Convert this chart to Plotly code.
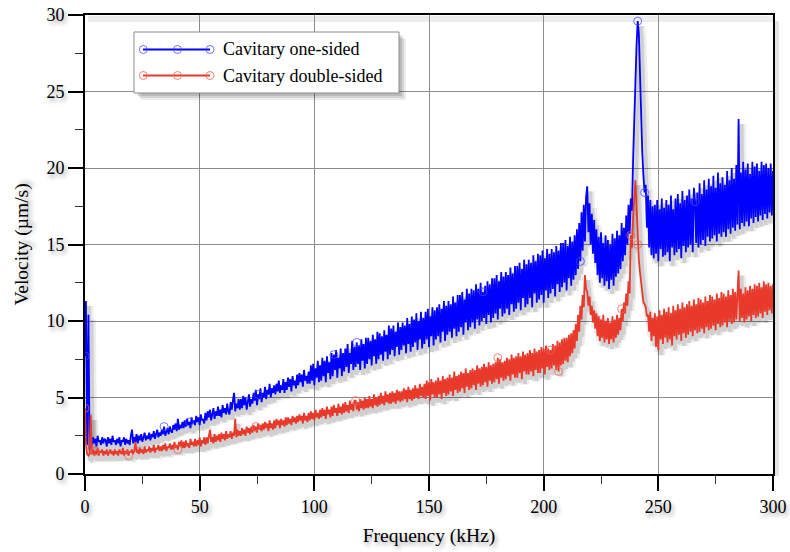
import numpy as np
import plotly.graph_objects as go

# ---------------------------------------------------------------- data
# Frequency axis (kHz): a few points inside the first 2.5 kHz, then 0.5 kHz steps
freq_start = [0, 0.4, 0.9, 1.5, 2.0, 2.5]
freq = freq_start + np.arange(3.0, 300.25, 0.5).tolist()

# Velocity spectrum (µm/s), cavitary one-sided; rows of 5 kHz from 3 kHz on
one_sided = [
    7.7, 11.3, 1.9, 10.4, 1.6, 2.3,
    1.9, 2.4, 2.0, 2.3, 1.8, 2.5, 2.1, 2.2, 1.9, 2.4,
    2.0, 2.3, 2.2, 1.8, 2.4, 2.0, 2.3, 1.9, 2.5, 2.1,
    2.2, 1.9, 2.3, 2.0, 2.4, 1.8, 2.2, 2.1, 2.4, 1.9,
    2.3, 2.0, 2.2, 1.9, 2.5, 2.9, 2.0, 2.4, 2.1, 2.6,
    2.0, 2.5, 2.2, 2.6, 2.1, 2.4, 2.7, 2.2, 2.5, 2.3,
    2.7, 2.2, 2.6, 2.4, 2.8, 2.3, 2.6, 2.9, 2.4, 2.7,
    2.5, 2.9, 2.6, 3.1, 2.5, 2.8, 3.0, 2.6, 3.1, 2.8,
    2.7, 3.2, 2.9, 3.3, 2.8, 3.6, 2.9, 3.2, 3.0, 3.4,
    3.0, 3.5, 3.1, 3.6, 3.2, 3.4, 3.0, 3.7, 3.3, 3.5,
    3.2, 3.8, 3.4, 3.7, 3.2, 3.9, 3.5, 3.6, 3.3, 4.0,
    3.5, 4.1, 3.7, 4.2, 3.5, 3.9, 4.3, 3.6, 4.1, 3.8,
    4.4, 3.8, 4.2, 3.7, 4.5, 4.0, 4.3, 3.9, 4.6, 4.1,
    3.9, 4.7, 4.2, 4.8, 5.3, 4.1, 4.6, 4.3, 4.9, 4.2,
    4.9, 4.3, 5.1, 4.5, 5.0, 4.2, 4.8, 5.2, 4.4, 4.9,
    4.6, 5.3, 4.8, 5.5, 4.5, 5.2, 4.9, 5.6, 4.7, 5.3,
    5.0, 5.7, 4.9, 5.5, 5.2, 5.9, 5.0, 5.6, 5.3, 5.8,
    5.2, 5.9, 5.4, 6.1, 5.3, 5.8, 5.5, 6.2, 5.3, 6.0,
    5.5, 6.3, 5.7, 6.2, 5.4, 6.4, 5.8, 6.1, 5.6, 6.5,
    5.8, 6.6, 6.0, 6.5, 5.7, 6.8, 6.1, 6.4, 5.9, 6.7,
    5.9, 7.1, 6.1, 7.2, 5.8, 6.9, 6.3, 7.4, 6.0, 7.1,
    6.1, 7.6, 6.4, 7.4, 6.0, 7.7, 6.6, 7.3, 6.2, 7.9,
    6.4, 7.8, 6.8, 8.1, 6.3, 7.6, 6.9, 8.2, 6.4, 7.9,
    6.7, 8.2, 7.0, 8.5, 6.6, 7.9, 7.2, 8.7, 6.8, 8.3,
    7.0, 8.6, 7.2, 8.4, 6.8, 8.8, 7.4, 8.5, 6.9, 8.9,
    7.2, 8.9, 7.5, 8.7, 7.1, 9.1, 7.7, 8.8, 7.2, 9.3,
    7.5, 9.2, 7.8, 9.0, 7.4, 9.4, 8.0, 9.1, 7.5, 9.7,
    7.8, 9.5, 8.1, 9.7, 7.7, 9.3, 8.3, 9.9, 7.8, 9.6,
    8.1, 9.9, 8.4, 9.7, 7.9, 10.2, 8.5, 9.8, 8.0, 10.3,
    8.3, 10.1, 8.6, 10.5, 8.1, 10.0, 8.8, 10.6, 8.2, 10.2,
    8.5, 10.6, 8.8, 10.8, 8.3, 10.3, 9.0, 10.9, 8.4, 10.7,
    8.8, 10.9, 9.0, 11.1, 8.6, 10.8, 9.3, 11.3, 8.7, 11.0,
    9.1, 11.3, 9.3, 11.1, 8.9, 11.6, 9.5, 11.2, 9.0, 11.7,
    9.3, 11.7, 9.6, 11.9, 9.1, 11.4, 9.9, 12.1, 9.4, 11.8,
    9.6, 12.1, 9.9, 12.0, 9.5, 12.4, 10.1, 12.1, 9.7, 12.5,
    10.0, 11.9, 10.2, 12.3, 9.8, 12.6, 10.4, 12.4, 9.9, 12.8,
    10.2, 12.8, 10.5, 13.0, 10.1, 12.6, 10.8, 13.2, 10.3, 12.9,
    10.5, 13.2, 10.8, 13.0, 10.4, 13.5, 11.1, 13.1, 10.6, 13.6,
    10.8, 13.6, 11.2, 13.8, 10.7, 13.4, 11.5, 14.0, 10.9, 13.7,
    11.1, 14.0, 11.5, 13.8, 10.9, 14.3, 11.8, 13.9, 11.2, 14.4,
    11.4, 14.3, 11.7, 14.6, 11.2, 14.1, 12.0, 14.7, 11.5, 14.4,
    11.8, 14.7, 12.1, 14.5, 11.6, 14.9, 12.4, 14.6, 11.9, 15.1,
    12.2, 15.1, 12.5, 15.3, 12.0, 14.9, 12.8, 15.5, 12.3, 15.2,
    12.7, 15.6, 13.0, 16.0, 13.4, 16.4, 13.9, 17.1, 14.6, 17.6,
    15.2, 18.1, 18.8, 15.8, 17.7, 15.0, 17.0, 14.4, 16.6, 13.8,
    16.0, 13.0, 15.5, 12.5, 15.8, 12.8, 15.1, 12.3, 15.6, 12.6,
    15.3, 12.1, 15.0, 12.7, 15.7, 12.3, 15.4, 12.9, 15.9, 13.1,
    15.6, 13.4, 16.4, 13.9, 16.1, 14.3, 16.9, 15.0, 17.6, 15.7,
    18.0, 17.2, 20.5, 22.5, 25.5, 28.0, 29.6, 28.8, 26.0, 23.5,
    21.0, 19.5, 18.4, 18.9, 16.1, 18.2, 14.8, 17.9, 14.3, 17.5,
    14.1, 17.6, 14.4, 17.9, 13.9, 17.3, 14.7, 18.0, 14.2, 17.4,
    14.3, 17.9, 14.5, 17.6, 13.9, 18.2, 14.8, 17.3, 14.3, 18.0,
    14.5, 18.3, 14.7, 17.7, 14.1, 18.5, 14.9, 17.9, 14.5, 18.2,
    14.8, 18.6, 15.0, 18.0, 14.5, 18.7, 17.8, 15.1, 18.4, 14.8,
    19.0, 15.0, 18.3, 15.3, 19.2, 14.9, 18.6, 15.5, 19.3, 15.2,
    18.8, 15.4, 19.5, 15.6, 18.7, 15.2, 19.7, 15.7, 19.0, 15.5,
    19.4, 15.8, 18.9, 15.5, 19.8, 16.0, 19.2, 15.7, 20.0, 16.1,
    19.3, 15.9, 20.2, 16.3, 23.2, 16.0, 19.7, 16.4, 20.4, 16.2,
    19.9, 16.5, 20.3, 16.2, 19.6, 16.7, 20.4, 16.4, 20.1, 16.8,
    20.3, 16.5, 19.8, 16.9, 20.4, 16.6, 20.2, 17.0, 20.3, 16.7,
    20.0, 17.1, 20.3, 16.9, 19.8,
]

# Velocity spectrum (µm/s), cavitary double-sided; rows of 5 kHz from 3 kHz on
double_sided = [
    4.3, 2.0, 1.3, 1.2, 1.3, 3.85,
    1.3, 1.6, 1.2, 1.5, 1.3, 1.7, 1.2, 1.5, 1.4, 1.6,
    1.2, 1.5, 1.3, 1.6, 1.2, 1.4, 1.6, 1.3, 1.5, 1.2,
    1.6, 1.3, 1.5, 1.2, 1.6, 1.4, 1.3, 1.7, 1.2, 1.5,
    1.3, 1.6, 1.2, 1.5, 1.4, 1.6, 1.3, 1.5, 2.1, 1.4,
    1.6, 1.3, 1.7, 1.4, 1.6, 1.3, 1.8, 1.4, 1.6, 1.5,
    1.8, 1.4, 1.7, 1.5, 1.9, 1.4, 1.7, 1.6, 1.9, 1.5,
    1.8, 1.5, 1.9, 1.6, 2.0, 1.5, 1.8, 1.7, 2.0, 1.6,
    1.9, 1.6, 2.1, 1.7, 1.9, 1.6, 2.1, 1.8, 2.2, 1.7,
    2.1, 1.7, 2.2, 1.8, 2.0, 1.7, 2.3, 1.9, 2.1, 1.8,
    2.3, 1.8, 2.2, 1.9, 2.4, 1.8, 2.2, 2.0, 2.4, 1.9,
    2.4, 2.0, 2.5, 2.9, 2.1, 2.4, 2.0, 2.6, 2.1, 2.5,
    2.2, 2.6, 2.1, 2.7, 2.3, 2.6, 2.2, 2.8, 2.3, 2.6,
    2.4, 2.8, 2.3, 2.7, 2.5, 3.6, 2.4, 2.9, 2.5, 2.8,
    2.5, 3.0, 2.6, 2.9, 2.5, 3.1, 2.7, 3.0, 2.6, 3.1,
    2.7, 3.2, 2.8, 3.1, 2.7, 3.3, 2.9, 3.2, 2.8, 3.3,
    2.9, 3.4, 3.0, 3.3, 2.8, 3.5, 3.0, 3.3, 2.9, 3.5,
    3.0, 3.6, 3.2, 3.5, 3.0, 3.6, 3.2, 3.5, 3.1, 3.7,
    3.2, 3.7, 3.3, 3.6, 3.2, 3.8, 3.4, 3.7, 3.3, 3.8,
    3.4, 3.9, 3.5, 3.8, 3.3, 4.0, 3.5, 3.8, 3.4, 4.0,
    3.5, 4.1, 3.6, 4.0, 3.5, 4.2, 3.7, 4.0, 3.6, 4.2,
    3.7, 4.3, 3.8, 4.2, 3.6, 4.4, 3.9, 4.2, 3.7, 4.4,
    3.8, 4.5, 4.0, 4.3, 3.8, 4.6, 4.0, 4.4, 3.9, 4.6,
    4.0, 4.7, 4.1, 4.5, 4.0, 4.8, 4.2, 4.6, 4.1, 4.8,
    4.8, 4.2, 4.7, 4.1, 4.9, 4.3, 4.8, 4.2, 5.0, 4.3,
    4.9, 4.3, 5.1, 4.4, 4.9, 4.3, 5.2, 4.5, 5.0, 4.4,
    5.1, 4.5, 5.3, 4.6, 5.1, 4.5, 5.4, 4.7, 5.2, 4.6,
    5.3, 4.6, 5.4, 4.7, 5.3, 4.6, 5.5, 4.8, 5.4, 4.7,
    5.4, 4.8, 5.6, 4.9, 5.5, 4.7, 5.7, 4.9, 5.5, 4.8,
    5.6, 4.9, 5.8, 5.0, 5.6, 4.9, 5.9, 5.1, 5.7, 5.0,
    5.9, 4.9, 6.1, 5.1, 6.0, 4.8, 6.2, 5.2, 6.0, 5.0,
    6.1, 5.0, 6.3, 5.2, 6.1, 4.9, 6.4, 5.3, 6.2, 5.1,
    6.3, 5.2, 6.5, 5.4, 6.3, 5.1, 6.7, 5.5, 6.4, 5.3,
    6.5, 5.4, 6.7, 5.6, 6.6, 5.3, 6.9, 5.7, 6.6, 5.5,
    6.8, 5.6, 6.9, 5.8, 6.8, 5.5, 7.1, 5.9, 6.9, 5.7,
    7.0, 5.8, 7.2, 6.0, 7.0, 5.7, 7.3, 6.1, 7.1, 5.9,
    7.2, 6.0, 7.3, 6.2, 7.6, 5.9, 7.5, 6.3, 7.3, 6.1,
    7.4, 6.2, 7.6, 6.4, 7.5, 6.1, 7.8, 6.5, 7.6, 6.3,
    7.7, 6.3, 7.9, 6.6, 7.7, 6.2, 8.0, 6.7, 7.8, 6.5,
    7.9, 6.5, 8.1, 6.7, 7.9, 6.4, 8.2, 6.8, 8.0, 6.6,
    8.1, 6.6, 8.3, 6.9, 8.2, 6.5, 8.4, 7.0, 8.2, 6.8,
    8.1, 6.9, 8.5, 7.1, 8.4, 6.8, 8.7, 6.7, 8.6, 7.1,
    8.8, 7.2, 8.9, 7.4, 8.9, 7.3, 9.1, 7.7, 9.2, 7.9,
    9.4, 8.2, 9.8, 8.7, 10.4, 9.3, 11.0, 10.1, 11.7, 10.9,
    13.0, 12.1, 11.9, 11.0, 11.6, 10.4, 11.0, 9.9, 10.7, 9.5,
    10.5, 9.0, 10.3, 8.7, 10.1, 8.9, 10.4, 8.6, 10.0, 8.8,
    10.2, 8.5, 9.9, 8.8, 10.3, 8.6, 10.1, 8.9, 10.4, 9.1,
    10.2, 9.4, 10.8, 10.0, 11.2, 10.5, 11.8, 11.0, 12.6, 11.8,
    15.6, 14.8, 16.8, 18.0, 19.2, 17.5, 15.0, 14.0, 13.2, 12.4,
    12.0, 11.2, 11.1, 10.9, 10.3, 10.4, 9.3, 10.6, 8.7, 10.2,
    9.0, 10.5, 8.3, 10.3, 8.1, 10.7, 8.8, 10.4, 8.5, 10.8,
    8.9, 10.6, 8.6, 10.9, 8.8, 10.5, 8.4, 11.0, 9.0, 10.7,
    8.8, 11.1, 9.1, 10.8, 8.7, 11.2, 9.2, 10.9, 8.9, 11.1,
    9.1, 11.3, 9.3, 11.0, 9.0, 11.4, 9.4, 11.1, 9.2, 11.5,
    9.3, 11.4, 9.5, 11.2, 9.2, 11.6, 9.6, 11.3, 9.4, 11.7,
    9.5, 11.6, 9.7, 11.4, 9.4, 11.8, 9.8, 11.5, 9.6, 11.9,
    9.7, 11.8, 9.9, 11.6, 9.6, 12.0, 10.0, 11.7, 9.8, 12.1,
    9.9, 11.9, 10.1, 11.7, 13.3, 10.0, 12.1, 10.2, 11.8, 9.9,
    12.2, 10.1, 12.0, 10.3, 12.3, 10.0, 12.1, 10.4, 12.4, 10.2,
    12.3, 10.3, 12.5, 10.5, 12.2, 10.2, 12.6, 10.6, 12.4, 10.4,
    12.5, 10.7, 12.3, 10.5, 12.4,
]

# Frequencies (kHz) of the samples that carry a circle marker
one_sided_marks = [0, 34.5, 45.5, 75.5, 108.5, 118.5, 173.5, 216, 241, 244, 266]
double_sided_marks = [0, 4.5, 19, 40.5, 74.5, 118, 180, 203, 206.5, 234, 238, 241]

series_names = ["Cavitary one-sided", "Cavitary double-sided"]
x_ticks = [0, 50, 100, 150, 200, 250, 300]
y_ticks = [0, 5, 10, 15, 20, 25, 30]

# ---------------------------------------------------------------- layout geometry
W, H = 790, 552
ML, MR, MT, MB = 85, 17, 15, 78
PW, PH = W - ML - MR, H - MT - MB
X_RANGE, Y_RANGE = [0, 300], [0, 30]

BLUE = "#0000ff"
RED = "#e8392b"
BLUE_MK = "rgba(70,70,255,0.75)"
RED_MK = "rgba(240,100,85,0.8)"
FONT = "Liberation Serif, Times New Roman, serif"
TXT_SHADOW = "2px 3px 4px rgba(0,0,0,0.38)"

# drop-shadow offset of the curves, in pixels (right, down)
SDX, SDY = 3, 5
kx = (X_RANGE[1] - X_RANGE[0]) / PW
ky = (Y_RANGE[1] - Y_RANGE[0]) / PH
shadow_xr = [X_RANGE[0] - SDX * kx, X_RANGE[1] - SDX * kx]
shadow_yr = [Y_RANGE[0] + SDY * ky, Y_RANGE[1] + SDY * ky]


def fx(px):
    return (px - ML) / PW


def fy(py):
    return (H - MB - py) / PH


n = min(len(freq), len(one_sided), len(double_sided))
freq, one_sided, double_sided = freq[:n], one_sided[:n], double_sided[:n]

fig = go.Figure()

# soft grey shadows under the curves (drawn on the shifted base axes)
for ys in (one_sided, double_sided):
    fig.add_trace(go.Scatter(x=freq, y=ys, mode="lines", xaxis="x", yaxis="y",
                             line=dict(color="rgba(0,0,0,0.07)", width=9),
                             hoverinfo="skip", showlegend=False))
    fig.add_trace(go.Scatter(x=freq, y=ys, mode="lines", xaxis="x", yaxis="y",
                             line=dict(color="rgba(0,0,0,0.12)", width=4),
                             hoverinfo="skip", showlegend=False))

# the spectra
for ys, col, name in ((one_sided, BLUE, series_names[0]),
                      (double_sided, RED, series_names[1])):
    fig.add_trace(go.Scatter(x=freq, y=ys, mode="lines", xaxis="x2", yaxis="y2",
                             line=dict(color=col, width=1.8), name=name,
                             showlegend=False))

# sparse open-circle markers on the spectra
for ys, marks, col in ((one_sided, one_sided_marks, BLUE_MK),
                       (double_sided, double_sided_marks, RED_MK)):
    idx = [freq.index(f) for f in marks]
    fig.add_trace(go.Scatter(x=[freq[i] for i in idx], y=[ys[i] for i in idx],
                             mode="markers", xaxis="x2", yaxis="y2",
                             marker=dict(symbol="circle-open", size=8,
                                         color=col, line=dict(width=1, color=col)),
                             hoverinfo="skip", showlegend=False))

tick_font = dict(family=FONT, size=18, color="black", shadow=TXT_SHADOW)
title_font = dict(family=FONT, size=19.5, color="black", shadow=TXT_SHADOW)

shapes = []
# shadow of the plot frame
shapes.append(dict(type="line", xref="paper", yref="paper",
                   x0=fx(W - MR + 3), x1=fx(W - MR + 3), y0=fy(MT + 6), y1=fy(H - MB + 2),
                   line=dict(color="rgba(0,0,0,0.10)", width=6), layer="below"))
shapes.append(dict(type="line", xref="paper", yref="paper",
                   x0=fx(ML + 3), x1=fx(W - MR), y0=fy(MT + 4), y1=fy(MT + 4),
                   line=dict(color="rgba(0,0,0,0.07)", width=6), layer="below"))

# legend box with its shadow
LX0, LX1, LY0, LY1 = 134, 399, 32, 93
for off, a in ((7, 0.07), (5, 0.10), (3, 0.12)):
    shapes.append(dict(type="rect", xref="paper", yref="paper",
                       x0=fx(LX0 + off), x1=fx(LX1 + off), y0=fy(LY1 + off), y1=fy(LY0 + off),
                       fillcolor=f"rgba(0,0,0,{a})", line=dict(width=0), layer="above"))
shapes.append(dict(type="rect", xref="paper", yref="paper",
                   x0=fx(LX0), x1=fx(LX1), y0=fy(LY1), y1=fy(LY0),
                   fillcolor="white", line=dict(color="#8c8c8c", width=1), layer="above"))

annotations = []
rows = ((49.5, BLUE, BLUE_MK, series_names[0]), (75.5, RED, RED_MK, series_names[1]))
for py, col, mk, name in rows:
    shapes.append(dict(type="line", xref="paper", yref="paper",
                       x0=fx(143), x1=fx(210), y0=fy(py), y1=fy(py),
                       line=dict(color=col, width=2), layer="above"))
    for cx in (143.3, 177.5, 210):
        shapes.append(dict(type="circle", xref="paper", yref="paper",
                           x0=fx(cx - 4), x1=fx(cx + 4), y0=fy(py + 4), y1=fy(py - 4),
                           fillcolor="rgba(0,0,0,0)", line=dict(color=mk, width=1),
                           layer="above"))
    annotations.append(dict(xref="paper", yref="paper", x=fx(221), y=fy(py),
                            xanchor="left", yanchor="middle", showarrow=False,
                            text=name, font=dict(family=FONT, size=18, color="black")))

axis_common = dict(
    showline=True, linecolor="black", linewidth=2, mirror=True,
    ticks="outside", ticklen=15, tickwidth=2, tickcolor="black",
    showgrid=True, gridcolor="#8c8c8c", gridwidth=1, zeroline=False,
    tickfont=tick_font, fixedrange=True,
)

fig.update_layout(
    width=W, height=H,
    margin=dict(l=ML, r=MR, t=MT, b=MB, autoexpand=False),
    paper_bgcolor="white", plot_bgcolor="white",
    showlegend=False,
    xaxis=dict(range=shadow_xr, visible=False, fixedrange=True),
    yaxis=dict(range=shadow_yr, visible=False, fixedrange=True),
    xaxis2=dict(overlaying="x", anchor="y2", side="bottom", range=X_RANGE,
                tickvals=x_ticks,
                minor=dict(ticks="outside", ticklen=8, tickwidth=1, tickcolor="#333",
                           dtick=25, showgrid=False),
                title=dict(text="Frequency (kHz)", font=title_font, standoff=13),
                **axis_common),
    yaxis2=dict(overlaying="y", anchor="x2", side="left", range=Y_RANGE,
                tickvals=y_ticks,
                minor=dict(ticks="outside", ticklen=8, tickwidth=1, tickcolor="#333",
                           dtick=2.5, showgrid=False),
                title=dict(text="Velocity (µm/s)", font=title_font, standoff=13),
                **axis_common),
    shapes=shapes,
    annotations=annotations,
)

fig.write_html("out.html")
